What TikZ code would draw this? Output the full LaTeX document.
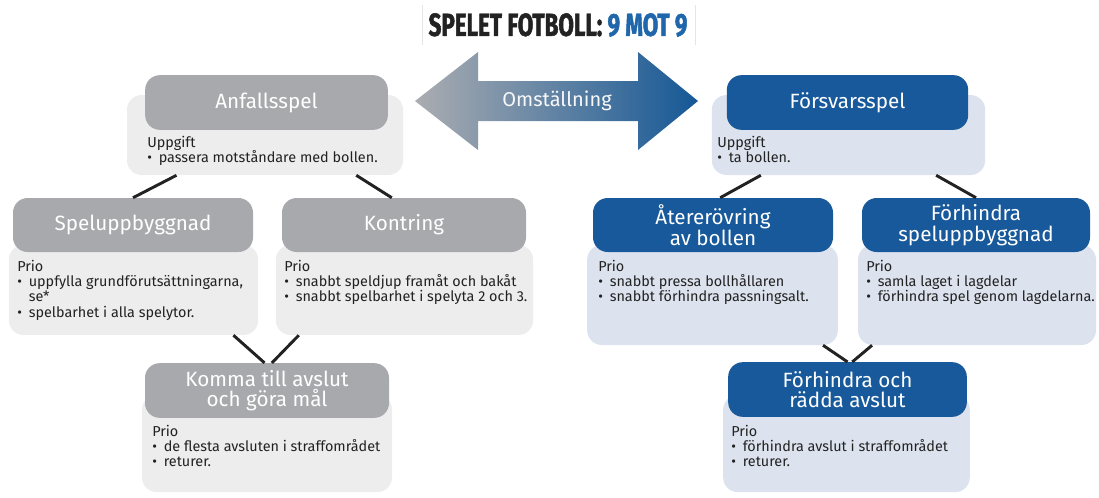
\documentclass[tikz,border=0pt]{standalone}
\usepackage{fontspec}
\setmainfont{Fira Sans}
\newfontfamily\titlefont[FakeStretch=0.7,BoldFeatures={FakeBold=1.5}]{Fira Sans}
\usetikzlibrary{calc}

\definecolor{headgray}{HTML}{A7A9AC}
\definecolor{bodygray}{HTML}{EDEDED}
\definecolor{headblue}{HTML}{17599A}
\definecolor{bodyblue}{HTML}{DDE3EE}
\definecolor{titleblue}{HTML}{1F66AA}
\definecolor{arrowgray}{HTML}{ABADB1}
\definecolor{arrowblue}{HTML}{155896}
\definecolor{ink}{HTML}{222222}

% bullet with hanging indent
\newcommand\itm{\makebox[0.8em][l]{\textbullet}}

\begin{document}
\begin{tikzpicture}[x=0.75pt,y=-0.75pt,
    box/.style={rounded corners=11pt, inner sep=0pt, align=center},
    head/.style={box, minimum height=41pt, text=white, font=\fontsize{15.5}{15.5}\selectfont},
    grayhead/.style={head, fill=headgray},
    bluehead/.style={head, fill=headblue},
    graybody/.style={box, fill=bodygray},
    bluebody/.style={box, fill=bodyblue},
    info/.style={anchor=north west, inner sep=0pt, align=left, text=ink,
                 font=\fontsize{10.8}{11.4}\selectfont},
    link/.style={line width=2.2pt, ink}]

    \useasboundingbox (0,0) rectangle (1099,497);

    % Title
    \node (title) at (558,25) {\titlefont\bfseries\fontsize{24}{24}\selectfont
        \textcolor{ink}{SPELET FOTBOLL:} \textcolor{titleblue}{9 MOT 9}};
    \draw[black!10] (422,5) -- (422,45);
    \draw[black!10] (695,5) -- (695,45);

    % Transition arrow
    \shade[left color=arrowgray, right color=arrowblue]
        (415,101) -- (478,52) -- (478,81) -- (638,81) -- (638,52) -- (698,101)
        -- (638,150) -- (638,121) -- (478,121) -- (478,150) -- cycle;
    \node[text=white!92!arrowgray, font=\fontsize{15}{15}\selectfont] (omst) at (557,101) {Omställning};

    % Attack
    \node[graybody, minimum width=207pt, minimum height=60pt] (anfbody) at (265,135) {};
    \node[grayhead, minimum width=182pt] (anfhead) at (266.5,102.5) {Anfallsspel};
    \node[info] (anftext) at (147,136) {Uppgift\\\itm passera motståndare med bollen.};

    \node[graybody, minimum width=187pt, minimum height=67.5pt] (spelbody) at (133.5,290) {};
    \node[grayhead, minimum width=180pt, minimum height=40.5pt] (spelhead) at (133,225) {Speluppbyggnad};
    \node[info] (speltext) at (17,260) {Prio\\\itm uppfylla grundförutsättningarna,\\\hspace*{0.8em}se*\\\itm spelbarhet i alla spelytor.};

    \node[graybody, minimum width=193pt, minimum height=67.5pt] (kontbody) at (404.5,290) {};
    \node[grayhead, minimum width=183pt, minimum height=40.5pt] (konthead) at (404,225) {Kontring};
    \node[info] (konttext) at (284,260) {Prio\\\itm snabbt speldjup framåt och bakåt\\\itm snabbt spelbarhet i spelyta 2 och 3.};

    \node[graybody, minimum width=187.5pt, minimum height=73pt] (kommabody) at (267,443.5) {};
    \node[grayhead, minimum width=183pt] (kommahead) at (267,390.5) {Komma till avslut\\och göra mål};
    \node[info] (kommatext) at (152,425) {Prio\\\itm de flesta avsluten i straffområdet\\\itm returer.};

    % Defence
    \node[bluebody, minimum width=205pt, minimum height=60pt] (forsbody) at (848.5,135) {};
    \node[bluehead, minimum width=181pt] (forshead) at (847.5,102.5) {Försvarsspel};
    \node[info] (forstext) at (717,136) {Uppgift\\\itm ta bollen.};

    \node[bluebody, minimum width=188pt, minimum height=75pt] (aterbody) at (712.5,295) {};
    \node[bluehead, minimum width=180pt, minimum height=40.5pt] (aterhead) at (713,225) {Återerövring\\av bollen};
    \node[info] (atertext) at (598,260) {Prio\\\itm snabbt pressa bollhållaren\\\itm snabbt förhindra passningsalt.};

    \node[bluebody, minimum width=178.5pt, minimum height=75pt] (hindbody) at (977,295) {};
    \node[bluehead, minimum width=171pt, minimum height=40.5pt] (hindhead) at (976,225) {Förhindra\\speluppbyggnad};
    \node[info] (hindtext) at (866,260) {Prio\\\itm samla laget i lagdelar\\\itm förhindra spel genom lagdelarna.};

    \node[bluebody, minimum width=185pt, minimum height=73pt] (raddabody) at (846.5,443.5) {};
    \node[bluehead, minimum width=179pt] (raddahead) at (847.5,389.5) {Förhindra och\\rädda avslut};
    \node[info] (raddatext) at (731,425) {Prio\\\itm förhindra avslut i straffområdet\\\itm returer.};

    % Links between the boxes
    \draw[link] ($(anfbody.south west)!.18!(anfbody.south east)$) -- (spelhead.north);
    \draw[link] ($(anfbody.south west)!.83!(anfbody.south east)$) -- ($(konthead.north west)!.45!(konthead.north east)$);
    \draw[link] ($(spelbody.south west)!.90!(spelbody.south east)$) -- ($(kommahead.north west)!.49!(kommahead.north east)$);
    \draw[link] ($(kontbody.south west)!.09!(kontbody.south east)$) -- ($(kommahead.north west)!.52!(kommahead.north east)$);

    \draw[link] ($(forsbody.south west)!.18!(forsbody.south east)$) -- ($(aterhead.north west)!.53!(aterhead.north east)$);
    \draw[link] ($(forsbody.south west)!.82!(forsbody.south east)$) -- (hindhead.north);
    \draw[link] ($(aterbody.south west)!.94!(aterbody.south east)$) -- ($(raddahead.north west)!.50!(raddahead.north east)$);
    \draw[link] ($(hindbody.south west)!.06!(hindbody.south east)$) -- ($(raddahead.north west)!.52!(raddahead.north east)$);
\end{tikzpicture}
\end{document}
